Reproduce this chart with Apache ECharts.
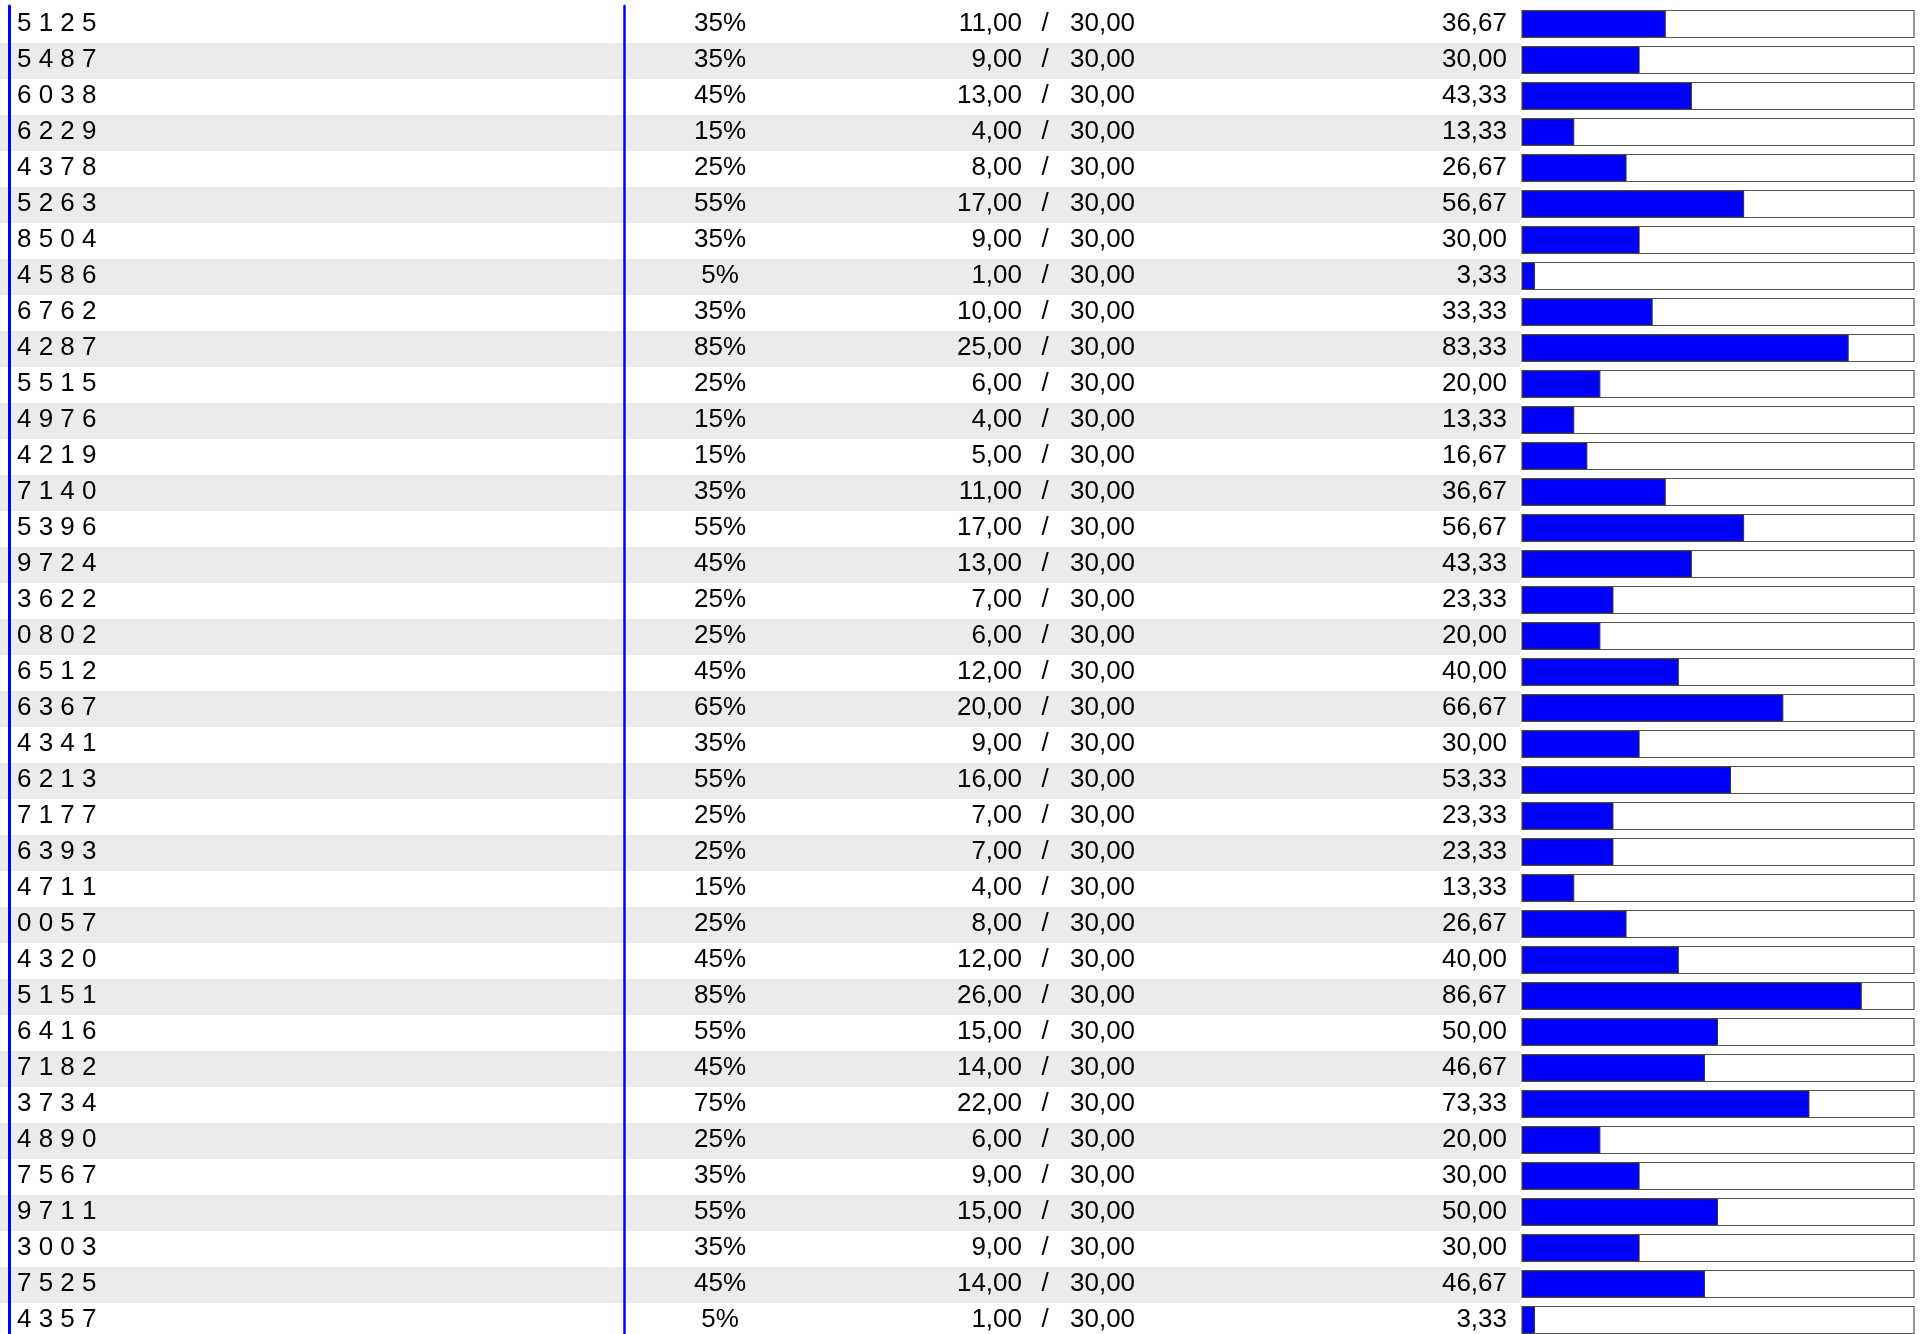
<!DOCTYPE html>
<html>
<head>
<meta charset="utf-8">
<title>Scores</title>
<script src="https://cdn.jsdelivr.net/npm/echarts@6/dist/echarts.min.js"></script>
<style>
  html, body { margin: 0; padding: 0; background: #fff; overflow: hidden; }
  /* a bit taller than the window: the last row is cut off like in the original */
  #chart { width: 1922px; height: 1346px; }
</style>
</head>
<body>
<div id="chart"></div>
<script>
// row ids (first column)
const ids = ['5125', '5487', '6038', '6229', '4378', '5263', '8504', '4586', '6762', '4287',
    '5515', '4976', '4219', '7140', '5396', '9724', '3622', '0802', '6512', '6367',
    '4341', '6213', '7177', '6393', '4711', '0057', '4320', '5151', '6416', '7182',
    '3734', '4890', '7567', '9711', '3003', '7525', '4357'];

// rounded percent column
const pcts = [35, 35, 45, 15, 25, 55, 35, 5, 35, 85,
    25, 15, 15, 35, 55, 45, 25, 25, 45, 65,
    35, 55, 25, 25, 15, 25, 45, 85, 55, 45,
    75, 25, 35, 55, 35, 45, 5];

// points scored / points possible
const scores = [11, 9, 13, 4, 8, 17, 9, 1, 10, 25,
    6, 4, 5, 11, 17, 13, 7, 6, 12, 20,
    9, 16, 7, 7, 4, 8, 12, 26, 15, 14,
    22, 6, 9, 15, 9, 14, 1];
const maxScores = [30, 30, 30, 30, 30, 30, 30, 30, 30, 30,
    30, 30, 30, 30, 30, 30, 30, 30, 30, 30,
    30, 30, 30, 30, 30, 30, 30, 30, 30, 30,
    30, 30, 30, 30, 30, 30, 30];

// share in % (bar values)
const shares = [36.67, 30.00, 43.33, 13.33, 26.67, 56.67, 30.00, 3.33, 33.33, 83.33,
    20.00, 13.33, 16.67, 36.67, 56.67, 43.33, 23.33, 20.00, 40.00, 66.67,
    30.00, 53.33, 23.33, 23.33, 13.33, 26.67, 40.00, 86.67, 50.00, 46.67,
    73.33, 20.00, 30.00, 50.00, 30.00, 46.67, 3.33];

const fmt = v => v.toFixed(2).replace('.', ',');

const FONT = {
    fontFamily: '"Liberation Sans", Arial, sans-serif',
    fontSize: 26,
    color: '#000'
};

// helper: a category axis on the bar grid used only to print one text column
function textAxis(offset, align, margin, formatter) {
    return {
        type: 'category',
        gridIndex: 0,
        data: ids,
        inverse: true,
        position: 'left',
        offset: offset,
        z: 5,
        axisLine: { show: false },
        axisTick: { show: false },
        splitLine: { show: false },
        axisLabel: Object.assign({
            interval: 0,
            align: align,
            margin: margin,
            formatter: formatter
        }, FONT)
    };
}

function lineAxis(offset, width) {
    return {
        type: 'category',
        gridIndex: 0,
        data: ids,
        inverse: true,
        position: 'left',
        offset: offset,
        z: 6,
        axisLine: { show: true, lineStyle: { color: '#0000ff', width: width } },
        axisTick: { show: false },
        axisLabel: { show: false },
        splitLine: { show: false }
    };
}

const chart = echarts.init(document.getElementById('chart'));
chart.setOption({
    animation: false,
    grid: [
        // bar column
        { left: 1522, width: 392, top: 6, height: 1332 },
        // row stripes behind the text columns
        { left: 0, width: 1520, top: 7, height: 1332 }
    ],
    xAxis: [
        { type: 'value', gridIndex: 0, min: 0, max: 100, show: false },
        { type: 'value', gridIndex: 1, min: 0, max: 1, show: false }
    ],
    yAxis: [
        {
            type: 'category',
            gridIndex: 1,
            data: ids,
            inverse: true,
            z: 0,
            axisLine: { show: false },
            axisTick: { show: false },
            axisLabel: { show: false },
            splitLine: { show: false },
            splitArea: { show: true, interval: 0, areaStyle: { color: ['#ffffff', '#ebebeb'] } }
        },
        // share value, right aligned next to the bar
        textAxis(0, 'right', 15, (v, i) => fmt(shares[i])),
        // denominator
        textAxis(452, 'left', 0, (v, i) => fmt(maxScores[i])),
        // slash
        textAxis(477, 'center', 0, () => '/'),
        // numerator
        textAxis(500, 'right', 0, (v, i) => fmt(scores[i])),
        // rounded percent
        textAxis(802, 'center', 0, (v, i) => pcts[i] + '%'),
        // ids
        textAxis(1505, 'left', 0, v => v.split('').join(' ')),
        // blue separators
        lineAxis(1513, 3),
        lineAxis(897.5, 2.5)
    ],
    series: [{
        type: 'bar',
        xAxisIndex: 0,
        yAxisIndex: 1,
        data: shares,
        barWidth: 27,
        silent: true,
        itemStyle: { color: '#0000ff', borderColor: '#333', borderWidth: 1 },
        showBackground: true,
        backgroundStyle: { color: '#ffffff', borderColor: '#555', borderWidth: 1.2 }
    }]
});
</script>
</body>
</html>
